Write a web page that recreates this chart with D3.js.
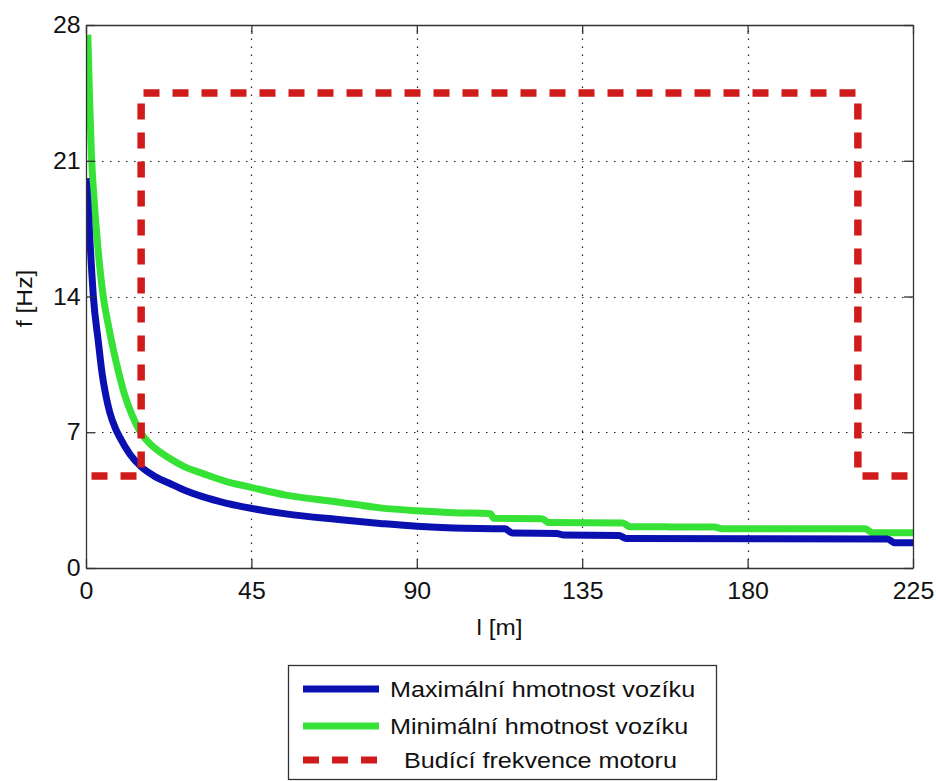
<!DOCTYPE html>
<html>
<head>
<meta charset="utf-8">
<script src="https://cdn.jsdelivr.net/npm/d3@7"></script>
<style>
  html, body { margin: 0; padding: 0; background: #fff; }
  svg { display: block; }
  text { font-family: "Liberation Sans", Arial, sans-serif; fill: #111; }
</style>
</head>
<body>
<svg id="chart" width="936" height="781"></svg>
<script>
// ---------- data ----------
const xTicks = [0, 45, 90, 135, 180, 225];
const yTicks = [0, 7, 14, 21, 28];
const xLabel = "l [m]";
const yLabel = "f [Hz]";
const seriesNames = ["Maximální hmotnost vozíku", "Minimální hmotnost vozíku", "Budící frekvence motoru"];

// Maximální hmotnost vozíku  [l, f]
const maxMass = [
  [0, 20.1], [0.35, 19.3], [1.1, 16.8], [2, 14.0], [3.4, 11.6], [4.4, 10.0], [5.4, 8.9],
  [6.5, 8.0], [8, 7.2], [9.1, 6.77], [12, 5.85], [15, 5.22], [18.5, 4.75], [22.7, 4.37],
  [27, 4.0], [31.7, 3.68], [38, 3.35], [44.9, 3.08], [54.4, 2.79], [68, 2.51], [80, 2.3],
  [90, 2.15], [100, 2.06], [114, 2.02], [116, 1.80], [128, 1.78], [130, 1.70], [145, 1.68],
  [147, 1.52], [218, 1.50], [220, 1.30], [225, 1.30]
];
// Minimální hmotnost vozíku  [l, f]
const minMass = [
  [0.5, 27.5], [1, 24.0], [1.5, 21.2], [2.2, 19.0], [3.2, 16.6], [4.7, 14.0], [6, 12.6],
  [7.5, 11.2], [9, 10.0], [10.4, 9.0], [12.5, 7.9], [15, 6.95], [18, 6.3], [22.7, 5.66],
  [27, 5.2], [31.7, 4.88], [38, 4.47], [44.9, 4.16], [54.4, 3.76], [68, 3.42], [80, 3.1],
  [90, 2.95], [100, 2.85], [110, 2.8], [111, 2.56], [124, 2.54],
  [126, 2.34], [146, 2.32], [148, 2.13], [171, 2.11], [173, 2.03], [212, 2.02],
  [214, 1.82], [225, 1.82]
];
// Budící frekvence motoru  [l, f]
const motor = [
  [1.5, 4.75], [15, 4.75], [15, 24.5], [210, 24.5], [210, 4.75], [224, 4.75]
];

// ---------- layout ----------
const svg = d3.select("#chart");
const M = { left: 86, right: 913, top: 25, bottom: 568 };
const x = d3.scaleLinear().domain([0, 225]).range([M.left, M.right]);
const y = d3.scaleLinear().domain([0, 28]).range([M.bottom, M.top]);

const colors = { max: "#0b10b0", min: "#36e236", motor: "#d01b1b" };
const SX = 1.06;

svg.append("rect").attr("width", 936).attr("height", 781).attr("fill", "#fff");

// grid
const grid = svg.append("g").attr("stroke", "#222").attr("stroke-width", 1.2)
  .attr("stroke-dasharray", "1.5,6.5");
grid.selectAll(".gx").data(xTicks.filter(d => d > 0 && d < 225)).join("line")
  .attr("x1", d => Math.round(x(d)) + 0.5).attr("x2", d => Math.round(x(d)) + 0.5)
  .attr("y1", M.bottom).attr("y2", M.top);
grid.selectAll(".gy").data(yTicks.filter(d => d > 0 && d < 28)).join("line")
  .attr("y1", d => Math.round(y(d)) + 0.5).attr("y2", d => Math.round(y(d)) + 0.5)
  .attr("x1", M.left).attr("x2", M.right);

// clip
svg.append("clipPath").attr("id", "clip").append("rect")
  .attr("x", M.left).attr("y", M.top).attr("width", M.right - M.left).attr("height", M.bottom - M.top);

const line = d3.line().x(d => x(d[0])).y(d => y(d[1]));
const plot = svg.append("g").attr("clip-path", "url(#clip)");

plot.append("path").datum(minMass).attr("d", line.curve(d3.curveMonotoneX))
  .attr("fill", "none").attr("stroke", colors.min).attr("stroke-width", 7).attr("stroke-linejoin", "round");
plot.append("path").datum(maxMass).attr("d", line.curve(d3.curveMonotoneX))
  .attr("fill", "none").attr("stroke", colors.max).attr("stroke-width", 7).attr("stroke-linejoin", "round");
plot.append("path").datum(motor).attr("d", line.curve(d3.curveLinear))
  .attr("fill", "none").attr("stroke", colors.motor).attr("stroke-width", 7.5)
  .attr("stroke-dasharray", "16,13").attr("stroke-linecap", "butt");

// axes (matlab-like box with inward ticks)
const axB = d3.axisBottom(x).tickValues(xTicks).tickSizeInner(-9).tickSizeOuter(0).tickPadding(14);
const axT = d3.axisTop(x).tickValues(xTicks).tickSizeInner(-9).tickSizeOuter(0).tickFormat("");
const axL = d3.axisLeft(y).tickValues(yTicks).tickSizeInner(-9).tickSizeOuter(0).tickPadding(5);
const axR = d3.axisRight(y).tickValues(yTicks).tickSizeInner(-9).tickSizeOuter(0).tickFormat("");

function style(g) {
  g.select(".domain").attr("stroke", "#333").attr("stroke-width", 1.3);
  g.selectAll(".tick line").attr("stroke", "#333").attr("stroke-width", 1.3);
  g.selectAll(".tick text").attr("font-size", 23.5).attr("fill", "#111")
    .attr("font-family", "Liberation Sans, Arial, sans-serif")
    .attr("transform", `scale(${SX},1)`);
}
svg.append("g").attr("transform", `translate(0,${M.bottom})`).call(axB).call(style);
svg.append("g").attr("transform", `translate(0,${M.top})`).call(axT).call(style);
svg.append("g").attr("transform", `translate(${M.left},0)`).call(axL).call(style);
svg.append("g").attr("transform", `translate(${M.right},0)`).call(axR).call(style);

// axis labels
svg.append("text").attr("transform", `translate(${(M.left + M.right) / 2},635) scale(1.08,1)`)
  .attr("text-anchor", "middle").attr("font-size", 22.5).text(xLabel);
svg.append("text").attr("transform", `translate(32,${(M.top + M.bottom) / 2 + 2}) rotate(-90) scale(1.1,1)`)
  .attr("text-anchor", "middle").attr("font-size", 22.5).text(yLabel);

// legend
const lg = svg.append("g");
lg.append("rect").attr("x", 288.5).attr("y", 665.5).attr("width", 428).attr("height", 114)
  .attr("fill", "#fff").attr("stroke", "#333").attr("stroke-width", 1.3);
const legendItems = [
  { name: seriesNames[0], color: colors.max, dash: null, cy: 689, tx: 390 },
  { name: seriesNames[1], color: colors.min, dash: null, cy: 726, tx: 390 },
  { name: seriesNames[2], color: colors.motor, dash: "16,13", cy: 760, tx: 404 }
];
legendItems.forEach(it => {
  const l = lg.append("line").attr("x1", 303).attr("x2", 379).attr("y1", it.cy).attr("y2", it.cy)
    .attr("stroke", it.color).attr("stroke-width", 7);
  if (it.dash) l.attr("stroke-dasharray", it.dash);
  lg.append("text").attr("transform", `translate(${it.tx},${it.cy + 8}) scale(1.12,1)`)
    .attr("font-size", 22.5).text(it.name);
});
</script>
</body>
</html>
